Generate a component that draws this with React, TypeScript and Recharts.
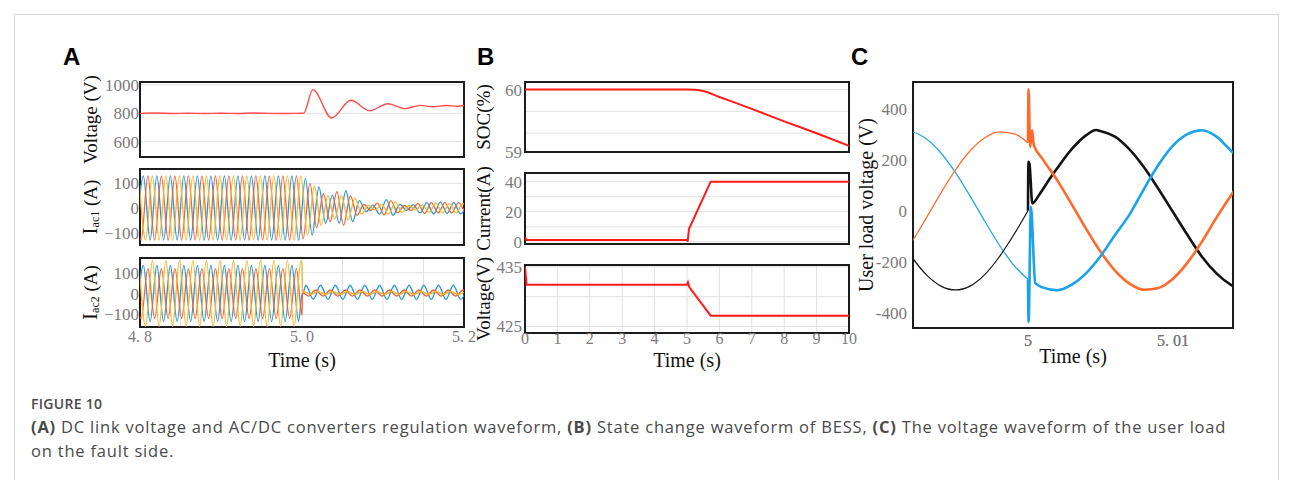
import React from 'react';
import { LineChart, Line, XAxis, YAxis, CartesianGrid, ReferenceArea } from 'recharts';

const SERIF = '"Liberation Serif", "DejaVu Serif", serif';
const SANS = '"Liberation Sans", Arial, sans-serif';

// ---------- (A) DC link voltage ----------
const dcTime = [4.8, 4.82, 4.84, 4.86, 4.88, 4.9, 4.92, 4.94, 4.96, 4.98, 5.0, 5.002, 5.0134, 5.0366, 5.0604, 5.0834, 5.106, 5.127, 5.146, 5.162, 5.178, 5.192, 5.2];
const dcVoltage = [800, 802, 799, 801, 799, 801, 799, 802, 800, 799, 801, 800, 967, 767, 892, 818, 868, 833, 856, 846, 855, 850, 855];

// ---------- (A) converter currents: one peak / trough per half cycle ----------
const HALF = 1 / 120;
const iac1Start = { blue: 4.79583, orange: 4.79306, yellow: 4.79861 };
const iac1BluePre = [-130, 130, -130, 130, -130, 130, -130, 130, -130, 130, -130, 130, -130, 130, -130, 130, -130, 130, -130, 130, -130, 130, -130, 130, -130];
const iac1OrangePre = [130, -130, 130, -130, 130, -130, 130, -130, 130, -130, 130, -130, 130, -130, 130, -130, 130, -130, 130, -130, 130, -130, 130, -130, 130];
const iac1YellowPre = [130, -130, 130, -130, 130, -130, 130, -130, 130, -130, 130, -130, 130, -130, 130, -130, 130, -130, 130, -130, 130, -130, 130, -130, 130];
const iac1BluePost = [120, -110, 85, -62, 52, -62, 70, -55, 30, -15, 12, -25, 34, -30, 15, -10, 14, -20, 22, -24, 24, -22, 22, -24, 22];
const iac1OrangePost = [-125, 100, -80, 58, -55, 66, -70, 50, -30, 15, -10, 20, -28, 30, -20, 10, -10, 18, -22, 22, -20, 22, -20, 22, -22];
const iac1YellowPost = [-110, 90, -70, 50, -45, 50, -48, 40, -25, 12, -8, 15, -25, 25, -18, 10, -8, 12, -18, 20, -20, 18, -20, 18, -20];

const iac2BluePre = [-135, 135, -135, 135, -135, 135, -135, 135, -135, 135, -135, 135, -135, 135, -135, 135, -135, 135, -135, 135, -135, 135, -135, 135, -135];
const iac2OrangePre = [120, -120, 120, -120, 120, -120, 120, -120, 120, -120, 120, -120, 120, -120, 120, -120, 120, -120, 120, -120, 120, -120, 120, -120, 120];
const iac2YellowPre = [158, -158, 158, -158, 158, -158, 158, -158, 158, -158, 158, -158, 158, -158, 158, -158, 158, -158, 158, -158, 158, -158, 158, -158, 158];
const faultTime = [5.0, 5.0006];
const iac2BlueFault = [0, -4];
const iac2OrangeFault = [-104, 6];
const iac2YellowFault = [137, 3];
const POST_HALF = 0.0091;
const iac2PostStart = { blue: 5.0048, orange: 5.0078, yellow: 5.0018 };
const iac2BluePost = [40, -28, 40, -28, 40, -28, 40, -28, 40, -28, 40, -28, 40, -28, 40, -28, 40, -28, 40, -28, 40, -28, 40];
const iac2OrangePost = [-12, 17, -12, 17, -12, 17, -12, 17, -12, 17, -12, 17, -12, 17, -12, 17, -12, 17, -12, 17, -12, 17, -12];
const iac2YellowPost = [10, -4, 10, -4, 10, -4, 10, -4, 10, -4, 10, -4, 10, -4, 10, -4, 10, -4, 10, -4, 10, -4, 10];

// ---------- (B) BESS ----------
const socTime = [0, 5, 5.25, 5.5, 6, 7, 8, 9, 10];
const socValue = [60, 60, 59.995, 59.975, 59.88, 59.69, 59.49, 59.3, 59.1];
const currentTime = [0, 0.05, 5.0, 5.02, 5.06, 5.73, 10];
const currentValue = [3, 1.2, 1.2, 0, 8.5, 40, 40];
const battVTime = [0, 0.05, 5.0, 5.03, 5.07, 5.73, 10];
const battVValue = [435, 432, 432, 432.4, 431.6, 426.8, 426.8];

// ---------- (C) user load voltage ----------
const cPreT = [4.9915, 4.992, 4.993, 4.994, 4.995, 4.996, 4.997, 4.998, 4.999, 5.0];
const cBluePreV = [310, 308, 281, 226, 149, 58, -39, -132, -212, -268];
const cOrangePreV = [-164, -121, -27, 70, 160, 234, 285, 309, 302, 266];
const cBlackPreV = [-141, -182, -251, -295, -310, -295, -251, -182, -96, 0];

const cBluePostT = [5.0, 5.00004, 5.0002, 5.0005, 5.001, 5.002, 5.003, 5.004, 5.005, 5.006, 5.007, 5.008, 5.009, 5.01, 5.011, 5.012, 5.013, 5.014, 5.0145];
const cBluePostV = [-268, -435, 15, -283, -300, -311, -290, -245, -178, -95, -15, 85, 180, 255, 300, 315, 290, 235, 210];
const cOrangePostT = [5.0, 5.00004, 5.00015, 5.00028, 5.0004, 5.001, 5.002, 5.003, 5.004, 5.005, 5.006, 5.007, 5.008, 5.009, 5.01, 5.011, 5.012, 5.013, 5.014, 5.0145];
const cOrangePostV = [266, 475, 250, 315, 258, 203, 121, 27, -70, -160, -234, -285, -309, -302, -266, -203, -121, -27, 60, 100];
const cBlackPostT = [5.0, 5.00003, 5.0001, 5.0003, 5.0008, 5.0015, 5.002, 5.003, 5.004, 5.0047, 5.005, 5.006, 5.007, 5.008, 5.009, 5.01, 5.011, 5.012, 5.013, 5.014, 5.0145];
const cBlackPostV = [0, 192, 185, 29, 65, 125, 165, 240, 295, 316, 312, 290, 240, 170, 85, -5, -95, -180, -245, -290, -305];

// ---------- axes ----------
const aTicks = [4.8, 4.85, 4.9, 4.95, 5.0, 5.05, 5.1, 5.15, 5.2];
const aTickLabels = [4.8, 5.0, 5.2];
const bTicks = [0, 1, 2, 3, 4, 5, 6, 7, 8, 9, 10];
const cTickLabels = [5, 5.01];
const cMinorTicks = [4.994, 4.996, 4.998, 5.0, 5.002, 5.004, 5.006, 5.008, 5.01, 5.012, 5.014];
const cYTicks = [-400, -200, 0, 200, 400];
const cYMinor = [-400, -300, -200, -100, 0, 100, 200, 300, 400, 500];

const toPts = (start: number, step: number, values: number[]) => values.map((v, i) => ({ t: start + i * step, v }));
const zipPts = (times: number[], values: number[]) => times.map((t, i) => ({ t, v: values[i] }));

type Box = { x: number; y: number; w: number; h: number };

function yTitle(content: React.ReactNode, dx: number, size: number) {
  return (props: any) => {
    const vb = props.viewBox;
    const cx = vb.x + vb.width + dx;
    const cy = vb.y + vb.height / 2;
    return (
      <text x={cx} y={cy} transform={`rotate(-90 ${cx} ${cy})`} textAnchor="middle" dominantBaseline="central" fontFamily={SERIF} fontSize={size} fill="#111">
        {content}
      </text>
    );
  };
}

function xTitle(dy: number) {
  return (props: any) => {
    const vb = props.viewBox;
    return (
      <text x={vb.x + vb.width / 2} y={vb.y + dy} textAnchor="middle" dominantBaseline="central" fontFamily={SERIF} fontSize={20} fill="#111">
        Time (s)
      </text>
    );
  };
}

function innerTicks(xDomain: [number, number], xTicks: number[], yDomain: [number, number], yTicks: number[], len: number) {
  const common = {
    type: 'number' as const,
    allowDataOverflow: true,
    mirror: true,
    axisLine: false,
    tick: false,
    tickSize: len,
    tickLine: { stroke: '#1c1c1c', strokeWidth: 1.2 },
    interval: 0 as const,
  };
  return [
    <XAxis key="xt" xAxisId="top" orientation="top" height={0} domain={xDomain} ticks={xTicks} {...common} />,
    <XAxis key="xb" xAxisId="bot" orientation="bottom" height={0} domain={xDomain} ticks={xTicks} {...common} />,
    <YAxis key="yl" yAxisId="left" orientation="left" width={0} domain={yDomain} ticks={yTicks} {...common} />,
    <YAxis key="yr" yAxisId="right" orientation="right" width={0} domain={yDomain} ticks={yTicks} {...common} />,
  ];
}

interface PlotProps {
  box: Box;
  xDomain: [number, number];
  yDomain: [number, number];
  xTicks: number[];
  yTicks: number[];
  yFormat: (v: number) => string;
  xFormat?: (v: number) => string;
  title: (p: any) => React.ReactNode;
  xTitleDy?: number;
  xTickMargin?: number;
  yTickMargin: number;
  grid: boolean;
  children: React.ReactNode;
}

function Plot(p: PlotProps) {
  const padL = 72;
  const padR = 8;
  const padT = 8;
  const labelled = !!p.xFormat;
  const padB = labelled ? 48 : 8;
  const tickStyle = { fontSize: 17, fill: '#7a7a7a', fontFamily: SERIF };
  const xTickStyle = { fontSize: 16, fill: '#7a7a7a', fontFamily: SERIF };
  return (
    <div style={{ position: 'absolute', left: p.box.x - padL, top: p.box.y - padT }}>
      <LineChart
        width={p.box.w + padL + padR}
        height={p.box.h + padT + padB}
        margin={{ top: padT, right: padR, bottom: labelled ? 0 : padB, left: 0 }}
      >
        {p.grid && <CartesianGrid stroke="#e2e2e2" />}
        <XAxis
          type="number"
          dataKey="t"
          domain={p.xDomain}
          ticks={p.xTicks}
          interval={0}
          allowDataOverflow
          height={labelled ? padB : 0}
          axisLine={false}
          tickLine={false}
          tickSize={0}
          tickMargin={p.xTickMargin ?? 0}
          tick={labelled ? xTickStyle : false}
          tickFormatter={p.xFormat}
          label={labelled ? xTitle(p.xTitleDy ?? 28) : undefined}
        />
        <YAxis
          type="number"
          domain={p.yDomain}
          ticks={p.yTicks}
          interval={0}
          allowDataOverflow
          width={padL}
          axisLine={false}
          tickLine={false}
          tickSize={0}
          tickMargin={p.yTickMargin}
          tick={tickStyle}
          tickFormatter={p.yFormat}
          label={p.title}
        />
        {p.children}
        <ReferenceArea x1={p.xDomain[0]} x2={p.xDomain[1]} y1={p.yDomain[0]} y2={p.yDomain[1]} fill="none" stroke="#1c1c1c" strokeWidth={2} />
      </LineChart>
    </div>
  );
}

const wave = (data: { t: number; v: number }[], color: string, width: number, type: 'monotone' | 'linear' = 'monotone') => (
  <Line data={data} dataKey="v" type={type} stroke={color} strokeWidth={width} dot={false} isAnimationActive={false} />
);

const signed = (v: number) => (v < 0 ? `\u2212${Math.abs(v)}` : String(v));
const aXFormat = (v: number) => (aTickLabels.includes(v) ? v.toFixed(1).replace('.', '. ') : '');
const cXFormat = (v: number) => (cTickLabels.includes(v) ? v.toFixed(2).replace(/\.?0+$/, '').replace('.', '. ') : '');

const BLUE = '#2299d8';
const ORANGE = '#f26536';
const YELLOW = '#f5b62e';

const iacTitle = (sub: string) => (
  <>
    <tspan fontSize={21}>I</tspan>
    <tspan fontSize={12} dy={5}>{sub}</tspan>
    <tspan dy={-5}> (A)</tspan>
  </>
);

function Letter({ x, text }: { x: number; text: string }) {
  return (
    <div style={{ position: 'absolute', left: x, top: 45, fontFamily: SANS, fontWeight: 700, fontSize: 24, lineHeight: '24px', color: '#000' }}>{text}</div>
  );
}

export default function App() {
  const aDom: [number, number] = [4.8, 5.2];
  const bDom: [number, number] = [0, 10];
  const cDom: [number, number] = [4.99207, 5.01414];

  const iac1 = {
    blue: toPts(iac1Start.blue, HALF, [...iac1BluePre, ...iac1BluePost]),
    orange: toPts(iac1Start.orange, HALF, [...iac1OrangePre, ...iac1OrangePost]),
    yellow: toPts(iac1Start.yellow, HALF, [...iac1YellowPre, ...iac1YellowPost]),
  };
  const iac2 = {
    blue: [...toPts(iac1Start.blue, HALF, iac2BluePre), ...zipPts(faultTime, iac2BlueFault), ...toPts(iac2PostStart.blue, POST_HALF, iac2BluePost)],
    orange: [...toPts(iac1Start.orange, HALF, iac2OrangePre), ...zipPts(faultTime, iac2OrangeFault), ...toPts(iac2PostStart.orange, POST_HALF, iac2OrangePost)],
    yellow: [...toPts(iac1Start.yellow, HALF, iac2YellowPre), ...zipPts(faultTime, iac2YellowFault), ...toPts(iac2PostStart.yellow, POST_HALF, iac2YellowPost)],
  };

  return (
    <div style={{ position: 'absolute', left: 0, top: 0, width: 1292, height: 480, background: '#fff', overflow: 'hidden' }}>
      <style>{'.recharts-surface{overflow:visible}'}</style>
      <div style={{ position: 'absolute', left: 14, top: 14, width: 1263, height: 520, border: '1px solid #d6d6d6' }} />

      <Letter x={63} text="A" />
      <Letter x={477} text="B" />
      <Letter x={851} text="C" />

      {/* (A) */}
      <Plot box={{ x: 140, y: 82, w: 324, h: 75 }} xDomain={aDom} yDomain={[492, 1021]} xTicks={aTicks} yTicks={[600, 800, 1000]}
        yFormat={(v) => String(v)} title={yTitle('Voltage (V)', -50, 19)} yTickMargin={1} grid>
        {wave(zipPts(dcTime, dcVoltage), '#ff4d4d', 1.4)}
      </Plot>
      <Plot box={{ x: 140, y: 169, w: 324, h: 76 }} xDomain={aDom} yDomain={[-150, 158]} xTicks={aTicks} yTicks={[-100, 0, 100]}
        yFormat={signed} title={yTitle(iacTitle('ac1'), -50, 19)} yTickMargin={1} grid>
        {wave(iac1.blue, BLUE, 1.3)}
        {wave(iac1.orange, ORANGE, 1.3)}
        {wave(iac1.yellow, YELLOW, 1.3)}
      </Plot>
      <Plot box={{ x: 140, y: 258, w: 324, h: 69 }} xDomain={aDom} yDomain={[-161, 171]} xTicks={aTicks} yTicks={[-100, 0, 100]}
        yFormat={signed} xFormat={aXFormat} xTickMargin={4} xTitleDy={33} title={yTitle(iacTitle('ac2'), -50, 19)} yTickMargin={1} grid>
        {wave(iac2.blue, BLUE, 1.3)}
        {wave(iac2.orange, ORANGE, 1.3)}
        {wave(iac2.yellow, YELLOW, 1.3)}
      </Plot>

      {/* (B) */}
      <Plot box={{ x: 525, y: 82, w: 324, h: 70 }} xDomain={bDom} yDomain={[59, 60.12]} xTicks={bTicks} yTicks={[59, 59.3, 59.65, 60]}
        yFormat={(v) => (v === 59 || v === 60 ? String(v) : '')} title={yTitle('SOC(%)', -42, 19)} yTickMargin={3} grid>
        {innerTicks(bDom, bTicks, [59, 60.12], [59.3, 59.65, 60], 4)}
        {wave(zipPts(socTime, socValue), '#ff1a1a', 2)}
      </Plot>
      <Plot box={{ x: 525, y: 173, w: 324, h: 71 }} xDomain={bDom} yDomain={[-1.5, 45.8]} xTicks={bTicks} yTicks={[0, 10, 20, 30, 40]}
        yFormat={(v) => (v % 20 === 0 ? String(v) : '')} title={yTitle('Current(A)', -42, 19)} yTickMargin={3} grid>
        {innerTicks(bDom, bTicks, [-1.5, 45.8], [0, 10, 20, 30, 40], 4)}
        {wave(zipPts(currentTime, currentValue), '#ff1a1a', 2, 'linear')}
      </Plot>
      <Plot box={{ x: 525, y: 265, w: 324, h: 68 }} xDomain={bDom} yDomain={[423.9, 435.3]} xTicks={bTicks} yTicks={[425, 430, 435]}
        yFormat={(v) => (v === 430 ? '' : String(v))} xFormat={(v) => String(v)} xTickMargin={0} xTitleDy={27}
        title={yTitle('Voltage(V)', -42, 19)} yTickMargin={3} grid>
        {innerTicks(bDom, bTicks, [423.9, 435.3], [430], 4)}
        {wave(zipPts(battVTime, battVValue), '#ff1a1a', 2, 'linear')}
      </Plot>

      {/* (C) */}
      <Plot box={{ x: 913, y: 82, w: 320, h: 246 }} xDomain={cDom} yDomain={[-459, 504]} xTicks={cMinorTicks.concat(cTickLabels)} yTicks={cYTicks}
        yFormat={(v) => String(v)} xFormat={cXFormat} xTickMargin={7} xTitleDy={28}
        title={yTitle('User load voltage (V)', -47, 20)} yTickMargin={6} grid={false}>
        {innerTicks(cDom, cMinorTicks, [-459, 504], cYMinor, 5)}
        {wave(zipPts(cPreT, cBluePreV), '#1aa3e8', 1.2)}
        {wave(zipPts(cPreT, cOrangePreV), '#ff6a2b', 1.2)}
        {wave(zipPts(cPreT, cBlackPreV), '#141414', 1.2)}
        {wave(zipPts(cBlackPostT, cBlackPostV), '#141414', 2.6)}
        {wave(zipPts(cOrangePostT, cOrangePostV), '#ff6a2b', 2.6)}
        {wave(zipPts(cBluePostT, cBluePostV), '#1aa3e8', 2.6)}
      </Plot>

      <div style={{ position: 'absolute', left: 31, top: 395, fontFamily: '"Open Sans", sans-serif', color: '#4a4a4a' }}>
        <div style={{ fontSize: 14, fontWeight: 600, lineHeight: '18px', letterSpacing: 0.3 }}>FIGURE 10</div>
        <div style={{ fontSize: 16.5, lineHeight: '24px', marginTop: 2, letterSpacing: 0.8, whiteSpace: 'nowrap' }}>
          <b>(A)</b> DC link voltage and AC/DC converters regulation waveform, <b>(B)</b> State change waveform of BESS, <b>(C)</b> The voltage waveform of the user load
          <br />
          on the fault side.
        </div>
      </div>
    </div>
  );
}
